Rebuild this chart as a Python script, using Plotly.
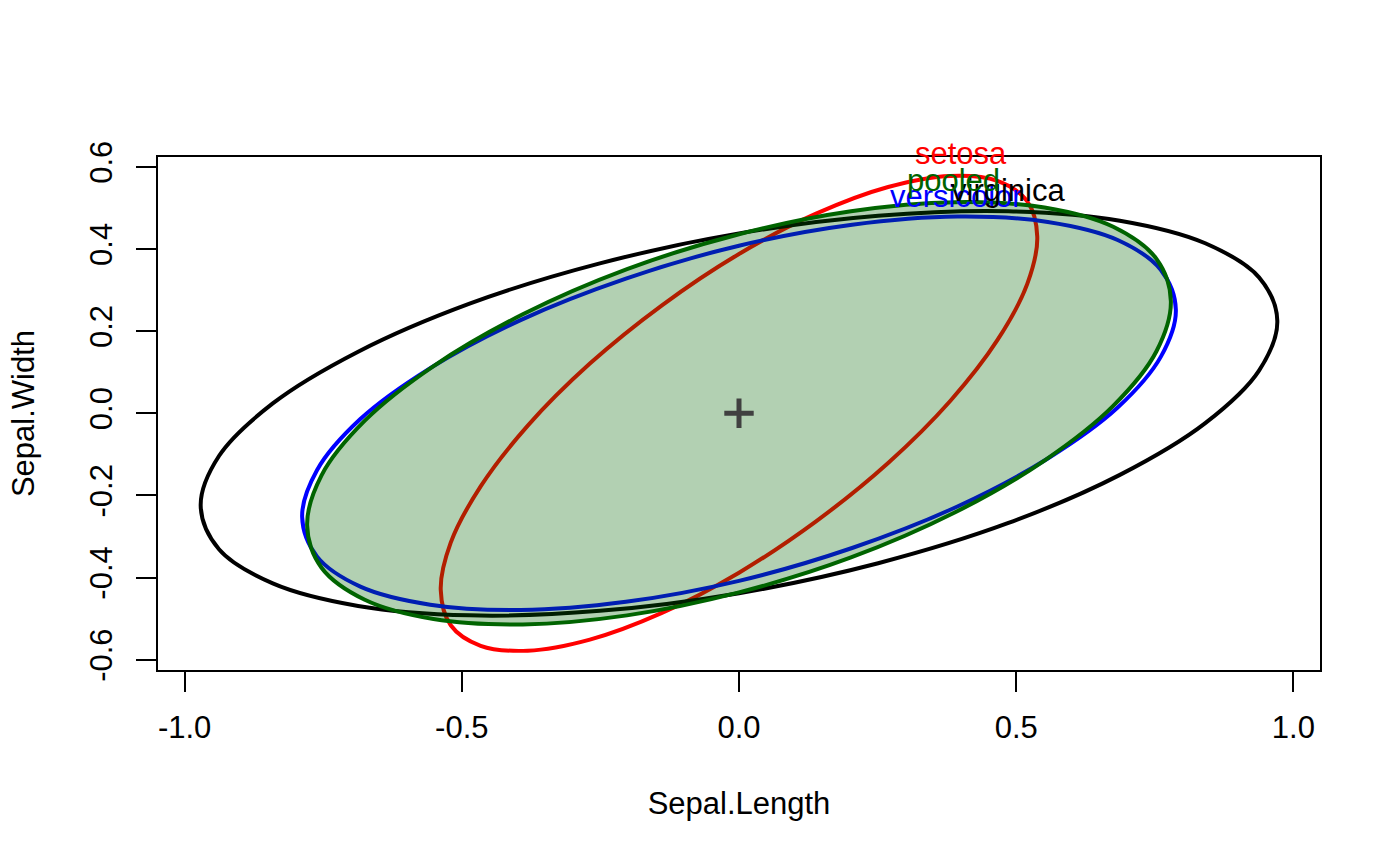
import plotly.graph_objects as go

# data ellipses for Sepal.Length / Sepal.Width (centered), outline points
setosa_x = [0.538, 0.520, 0.466, 0.381, 0.269, 0.139, 0.000, -0.139, -0.269, -0.381, -0.466, -0.520,
            -0.538, -0.520, -0.466, -0.381, -0.269, -0.139, 0.000, 0.139, 0.269, 0.381, 0.466, 0.520, 0.538]
setosa_y = [0.430, 0.516, 0.566, 0.578, 0.551, 0.486, 0.388, 0.263, 0.121, -0.030, -0.178, -0.315,
            -0.430, -0.516, -0.566, -0.578, -0.551, -0.486, -0.388, -0.263, -0.121, 0.030, 0.178, 0.315, 0.430]

versicolor_x = [0.788, 0.761, 0.683, 0.557, 0.394, 0.204, 0.000, -0.204, -0.394, -0.557, -0.683, -0.761,
                -0.788, -0.761, -0.683, -0.557, -0.394, -0.204, 0.000, 0.204, 0.394, 0.557, 0.683, 0.761, 0.788]
versicolor_y = [0.252, 0.349, 0.422, 0.466, 0.479, 0.459, 0.408, 0.328, 0.227, 0.110, -0.014, -0.138,
                -0.252, -0.349, -0.422, -0.466, -0.479, -0.459, -0.408, -0.328, -0.227, -0.110, 0.014, 0.138, 0.252]

virginica_x = [0.971, 0.938, 0.841, 0.687, 0.486, 0.251, 0.000, -0.251, -0.486, -0.687, -0.841, -0.938,
               -0.971, -0.938, -0.841, -0.687, -0.486, -0.251, 0.000, 0.251, 0.486, 0.687, 0.841, 0.938, 0.971]
virginica_y = [0.225, 0.331, 0.414, 0.469, 0.492, 0.481, 0.438, 0.365, 0.267, 0.150, 0.024, -0.104,
               -0.225, -0.331, -0.414, -0.469, -0.492, -0.481, -0.438, -0.365, -0.267, -0.150, -0.024, 0.104, 0.225]

pooled_x = [0.779, 0.753, 0.675, 0.551, 0.390, 0.202, 0.000, -0.202, -0.390, -0.551, -0.675, -0.753,
            -0.779, -0.753, -0.675, -0.551, -0.390, -0.202, 0.000, 0.202, 0.390, 0.551, 0.675, 0.753, 0.779]
pooled_y = [0.273, 0.376, 0.454, 0.501, 0.514, 0.492, 0.436, 0.351, 0.241, 0.115, -0.018, -0.151,
            -0.273, -0.376, -0.454, -0.501, -0.514, -0.492, -0.436, -0.351, -0.241, -0.115, 0.018, 0.151, 0.273]

# grand mean
center_x = [0.0]
center_y = [0.0]

# ellipse labels: text, x, y
label_text = ["setosa", "versicolor", "virginica", "pooled"]
label_x = [0.400, 0.392, 0.486, 0.387]
label_y = [0.632, 0.529, 0.542, 0.567]

x_ticks = [-1.0, -0.5, 0.0, 0.5, 1.0]
y_ticks = [-0.6, -0.4, -0.2, 0.0, 0.2, 0.4, 0.6]

X_RANGE = [-1.048, 1.048]
Y_RANGE = [-0.625, 0.624]

FONT = "Liberation Sans, Arial, Helvetica, sans-serif"
FS = 31

fig = go.Figure()

# group ellipses (outline only)
groups = [(setosa_x, setosa_y, "red", "setosa"),
          (versicolor_x, versicolor_y, "blue", "versicolor"),
          (virginica_x, virginica_y, "black", "virginica")]
for gx, gy, col, nm in groups:
    fig.add_trace(go.Scatter(
        x=gx, y=gy,
        mode='lines',
        line=dict(color=col, width=4, shape='spline'),
        name=nm,
        hoverinfo='name'))

# pooled ellipse, filled on top
fig.add_trace(go.Scatter(
    x=pooled_x, y=pooled_y,
    mode='lines',
    fill='toself',
    fillcolor='rgba(0,100,0,0.3)',
    line=dict(color='rgb(0,100,0)', width=4, shape='spline'),
    name="pooled",
    hoverinfo='name'))

# center cross
fig.add_trace(go.Scatter(
    x=center_x, y=center_y,
    mode='markers',
    marker=dict(symbol='cross-thin', size=21, line=dict(color='#404040', width=5)),
    name="mean",
    hoverinfo='skip'))

# ellipse labels; setosa sits above the plot box, so place them on the y domain
# (data annotations outside the axis range get hidden)
label_cols = ["red", "blue", "black", "rgb(0,100,0)"]
for txt, lx, ly, col in zip(label_text, label_x, label_y, label_cols):
    fig.add_annotation(x=lx, xref='x',
                       y=(ly - Y_RANGE[0]) / (Y_RANGE[1] - Y_RANGE[0]), yref='y domain',
                       text=txt, showarrow=False,
                       font=dict(family=FONT, size=FS, color=col),
                       xanchor='center', yanchor='middle')

axis_common = dict(
    showline=True, linecolor='black', linewidth=2, mirror=True,
    ticks='outside', ticklen=20, tickwidth=2, tickcolor='black',
    showgrid=False, zeroline=False,
    tickfont=dict(family=FONT, size=FS, color='black'))

fig.update_xaxes(range=X_RANGE, tickvals=x_ticks,
                 ticktext=["-1.0", "-0.5", "0.0", "0.5", "1.0"],
                 ticklabelstandoff=9,
                 title=dict(text="Sepal.Length", font=dict(family=FONT, size=FS, color='black'), standoff=48),
                 **axis_common)
fig.update_yaxes(range=Y_RANGE, tickvals=y_ticks,
                 ticktext=["-0.6", "-0.4", "-0.2", "0.0", "0.2", "0.4", "0.6"],
                 tickangle=-90, ticklabelstandoff=12,
                 title=dict(text="Sepal.Width", font=dict(family=FONT, size=FS, color='black'), standoff=40),
                 **axis_common)

fig.update_layout(
    width=1400, height=866,
    margin=dict(l=158, r=80, t=157, b=196, autoexpand=False),
    plot_bgcolor='white', paper_bgcolor='white',
    showlegend=False)

fig.write_html("out.html", config={'displayModeBar': False},
               post_script="document.body.style.margin='0';")
